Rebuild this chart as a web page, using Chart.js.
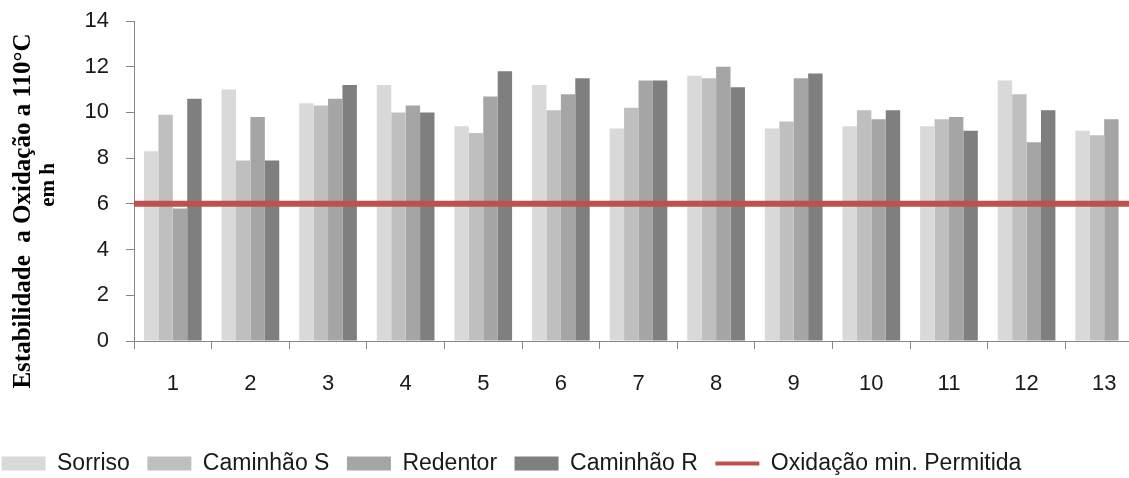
<!DOCTYPE html>
<html>
<head>
<meta charset="utf-8">
<script src="https://cdn.jsdelivr.net/npm/chart.js@4/dist/chart.umd.min.js"></script>
<style>
  html, body { margin: 0; padding: 0; background: #fff; overflow: hidden; }
  #wrap { width: 1129px; height: 478px; overflow: hidden; }
  canvas { display: block; }
</style>
</head>
<body>
<div id="wrap"><canvas id="chart" width="1143" height="485"></canvas></div>
<script>
// Amostras (categorias do eixo x)
const categories = ['1', '2', '3', '4', '5', '6', '7', '8', '9', '10', '11', '12', '13'];

// Estabilidade à oxidação a 110 °C, em horas, por amostra
const sorriso   = [8.3, 11.0, 10.4, 11.2, 9.4, 11.2, 9.3, 11.6, 9.3, 9.4, 9.4, 11.4, 9.2];
const caminhaoS = [9.9, 7.9, 10.3, 10.0, 9.1, 10.1, 10.2, 11.5, 9.6, 10.1, 9.7, 10.8, 9.0];
const redentor  = [5.8, 9.8, 10.6, 10.3, 10.7, 10.8, 11.4, 12.0, 11.5, 9.7, 9.8, 8.7, 9.7];
const caminhaoR = [10.6, 7.9, 11.2, 10.0, 11.8, 11.5, 11.4, 11.1, 11.7, 10.1, 9.2, 10.1, null];

// Limite mínimo permitido: linha horizontal de ponta a ponta do eixo x
const limiteX = [0.5, 13.5];
const limiteY = [6, 6];

// Eixo y
const yMin = 0, yMax = 14, yStep = 2;

const seriesNames = ['Sorriso', 'Caminhão S', 'Redentor', 'Caminhão R', 'Oxidação min. Permitida'];
const seriesColors = ['#d9d9d9', '#bfbfbf', '#a5a5a5', '#7f7f7f', '#c0504d'];

const axisTitleLines = ['Estabilidade  a Oxidação a 110°C', 'em h'];

// Título do eixo y em duas linhas, girado
const yTitlePlugin = {
  id: 'yTitle',
  afterDraw(chart) {
    const ctx = chart.ctx;
    const spots = [[24, 211, 25], [49, 185, 21]];
    ctx.save();
    ctx.fillStyle = '#000';
    ctx.textAlign = 'center';
    ctx.textBaseline = 'middle';
    axisTitleLines.forEach((line, i) => {
      const [x, y, size] = spots[i];
      ctx.save();
      ctx.font = 'bold ' + size + 'px "Liberation Serif", "Times New Roman", serif';
      ctx.translate(x, y);
      ctx.rotate(-Math.PI / 2);
      ctx.fillText(line, 0, 0);
      ctx.restore();
    });
    ctx.restore();
  }
};

const barSets = [sorriso, caminhaoS, redentor, caminhaoR].map((vals, i) => ({
  type: 'bar',
  label: seriesNames[i],
  data: vals,
  backgroundColor: seriesColors[i],
  borderWidth: 0,
  categoryPercentage: 0.743,
  barPercentage: 1.0,
  order: 1
}));

const limitSet = {
  type: 'line',
  label: seriesNames[4],
  data: limiteX.map((x, i) => ({ x, y: limiteY[i] })),
  borderColor: seriesColors[4],
  backgroundColor: seriesColors[4],
  borderWidth: 6,
  pointRadius: 0,
  fill: false,
  order: 0
};

const axisGray = '#868686';
const tickFont = { family: '"Liberation Sans", Arial, sans-serif', size: 22 };

new Chart(document.getElementById('chart'), {
  type: 'bar',
  data: { labels: categories, datasets: [...barSets, limitSet] },
  plugins: [yTitlePlugin],
  options: {
    responsive: false,
    animation: false,
    layout: { padding: { top: 21, left: -16, right: 0, bottom: 0 } },
    scales: {
      x: {
        type: 'linear',
        min: 0.5,
        max: categories.length + 0.5,
        offset: false,
        afterBuildTicks(scale) {
          scale.ticks = categories.map((c, i) => ({ value: i + 1 }));
        },
        grid: { display: true, drawOnChartArea: false, drawTicks: true, tickLength: 8, color: axisGray, offset: true },
        border: { color: axisGray, width: 1 },
        ticks: {
          color: '#1a1a1a', font: tickFont, padding: 22, maxRotation: 0, autoSkip: false,
          callback: (value) => categories[Math.round(value) - 1]
        },
        afterFit(scale) { scale.height = 93.5; }
      },
      y: {
        min: yMin, max: yMax,
        grid: { display: true, drawOnChartArea: false, drawTicks: true, tickLength: 8, color: axisGray },
        border: { color: axisGray, width: 1 },
        ticks: { stepSize: yStep, color: '#1a1a1a', font: tickFont, padding: 17 },
        afterFit(scale) {
          scale.width = 150;
          scale.paddingTop = 0;
          scale.paddingBottom = 0;
        }
      }
    },
    plugins: {
      tooltip: { enabled: false },
      legend: {
        position: 'bottom',
        align: 'start',
        labels: {
          usePointStyle: true,
          pointStyleWidth: 44,
          boxHeight: 14,
          padding: 17.5,
          color: '#1a1a1a',
          font: { family: '"Liberation Sans", Arial, sans-serif', size: 23 },
          sort: (a, b) => a.datasetIndex - b.datasetIndex,
          generateLabels(chart) {
            const items = Chart.defaults.plugins.legend.labels.generateLabels(chart);
            items.forEach(it => {
              const ds = chart.data.datasets[it.datasetIndex];
              if (ds.type === 'line') {
                it.pointStyle = 'line';
                it.lineWidth = 4;
                it.strokeStyle = ds.borderColor;
              } else {
                it.pointStyle = 'rect';
                it.lineWidth = 0;
              }
            });
            return items;
          }
        }
      }
    }
  }
});
</script>
</body>
</html>
